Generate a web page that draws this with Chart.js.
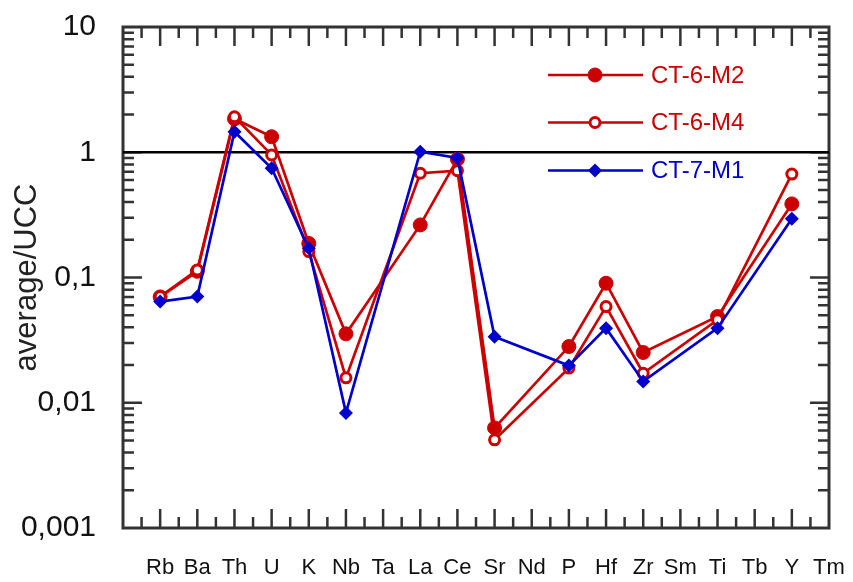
<!DOCTYPE html>
<html><head><meta charset="utf-8">
<script src="https://cdn.jsdelivr.net/npm/chart.js@4/dist/chart.umd.min.js"></script>
<style>html,body{margin:0;padding:0;background:#fff}#wrap{width:853px;height:582px}</style>
</head><body><div id="wrap"><canvas id="c" width="853" height="582"></canvas></div>
<script>
const categories = ['Rb','Ba','Th','U','K','Nb','Ta','La','Ce','Sr','Nd','P','Hf','Zr','Sm','Ti','Tb','Y','Tm'];
const ct6m2 = [0.070, 0.112, 1.85, 1.33, 0.187, 0.0355, null, 0.263, 0.88, 0.0063, null, 0.0281, 0.090, 0.0252, null, 0.0488, null, 0.387, null];
const ct6m4 = [0.0704, 0.115, 1.92, 0.952, 0.161, 0.0158, null, 0.68, 0.713, 0.00506, null, 0.0189, 0.0586, 0.0172, null, 0.0459, null, 0.67, null];
const ct7m1 = [0.0642, 0.0704, 1.46, 0.745, 0.171, 0.0083, null, 1.01, 0.90, 0.0337, null, 0.0198, 0.0394, 0.0148, null, 0.0394, null, 0.294, null];
const seriesNames = ['CT-6-M2','CT-6-M4','CT-7-M1'];
const yTickValues = [0.001, 0.01, 0.1, 1, 10];
const yTickLabels = ['0,001','0,01','0,1','1','10'];
const referenceLevel = 1;

const RED = '#cc0000', BLUE = '#0000cc';
const FONT = '"Liberation Sans", Arial, sans-serif';

function toPoints(arr){ const pts=[]; arr.forEach((v,i)=>{ if(v!==null) pts.push({x:i,y:v}); }); return pts; }

const datasets = [
  {label: seriesNames[0], data: toPoints(ct6m2), borderColor: RED, backgroundColor: RED, borderWidth: 2.7,
   pointStyle: 'circle', pointRadius: 7, pointBorderWidth: 1, pointBackgroundColor: RED, pointBorderColor: RED, order: 2},
  {label: seriesNames[1], data: toPoints(ct6m4), borderColor: RED, backgroundColor: '#fff', borderWidth: 2.7,
   pointStyle: 'circle', pointRadius: 5, pointBorderWidth: 3, pointBackgroundColor: '#fff', pointBorderColor: RED, order: 1},
  {label: seriesNames[2], data: toPoints(ct7m1), borderColor: BLUE, backgroundColor: BLUE, borderWidth: 2.7,
   pointStyle: 'rectRot', pointRadius: 7, pointBorderWidth: 0, pointBackgroundColor: BLUE, pointBorderColor: BLUE, order: 0},
  {label: 'ref', data: [{x:-1, y:referenceLevel},{x:categories.length-1, y:referenceLevel}], borderColor: '#000', borderWidth: 2.5, pointRadius: 0, order: 3}
];

const framePlugin = {
  id: 'frame',
  beforeDatasetsDraw(chart){
    const ctx = chart.ctx, xs = chart.scales.x, ys = chart.scales.y;
    const L = xs.getPixelForValue(-1), R = xs.getPixelForValue(categories.length-1);
    const T = ys.getPixelForValue(yTickValues[yTickValues.length-1]), B = ys.getPixelForValue(yTickValues[0]);
    ctx.save();
    ctx.strokeStyle = '#333'; ctx.lineWidth = 2.5; ctx.lineCap = 'butt';
    ctx.beginPath();
    for (let k = -1; k <= (categories.length-1)*2 - 1; k++){
      const v = k/2; const px = xs.getPixelForValue(v);
      const len = Number.isInteger(v) ? 19 : 11;
      ctx.moveTo(px, B); ctx.lineTo(px, B-len);
      ctx.moveTo(px, T); ctx.lineTo(px, T+len);
    }
    for (let d = -3; d <= 0; d++){
      for (let m = 1; m <= 9; m++){
        if (m === 1 && d === -3) continue;
        const py = ys.getPixelForValue(m*Math.pow(10,d));
        const len = m === 1 ? 19 : 11;
        ctx.moveTo(L, py); ctx.lineTo(L+len, py);
        ctx.moveTo(R, py); ctx.lineTo(R-len, py);
      }
    }
    ctx.stroke();
    ctx.lineWidth = 3;
    ctx.strokeRect(L, T, R-L, B-T);
    ctx.restore();
  }
};

const legendPlugin = {
  id: 'customLegend',
  afterDraw(chart){
    const ctx = chart.ctx;
    const ys = [75, 122.5, 170.5];
    const colors = [RED, RED, BLUE];
    ctx.save();
    for (let i = 0; i < 3; i++){
      const ds = chart.data.datasets[i];
      const y = ys[i];
      ctx.strokeStyle = colors[i]; ctx.lineWidth = 2.5;
      ctx.beginPath(); ctx.moveTo(548, y); ctx.lineTo(643, y); ctx.stroke();
      ctx.fillStyle = ds.pointBackgroundColor; ctx.strokeStyle = ds.pointBorderColor; ctx.lineWidth = ds.pointBorderWidth;
      Chart.helpers.drawPoint(ctx, {pointStyle: ds.pointStyle, radius: ds.pointRadius, borderWidth: ds.pointBorderWidth, rotation: 0}, 595, y);
      ctx.fillStyle = colors[i];
      ctx.font = '24px ' + FONT;
      ctx.textBaseline = 'middle'; ctx.textAlign = 'left';
      ctx.fillText(ds.label, 651, y + 1);
    }
    ctx.restore();
  }
};

new Chart(document.getElementById('c'), {
  type: 'line',
  data: { datasets },
  options: {
    responsive: false, animation: false, devicePixelRatio: 1,
    layout: { padding: { top: 27, right: 24, left: 0, bottom: 0 } },
    elements: { line: { tension: 0, fill: false } },
    plugins: { legend: { display: false }, tooltip: { enabled: false } },
    scales: {
      x: {
        type: 'linear', min: -1, max: categories.length-1,
        afterBuildTicks: s => { s.ticks = categories.map((c,i)=>({value:i})); },
        afterFit: s => { s.height = 54; s.paddingLeft = 0; s.paddingRight = 0; },
        ticks: { autoSkip: false, maxRotation: 0, minRotation: 0, padding: 27, color: '#111',
                 font: { family: FONT, size: 22 }, callback: (v, i) => categories[i] },
        grid: { display: false, drawTicks: false }, border: { display: false }
      },
      y: {
        type: 'logarithmic', min: yTickValues[0], max: yTickValues[yTickValues.length-1],
        afterBuildTicks: s => { s.ticks = yTickValues.map(v=>({value:v})); },
        afterFit: s => { s.width = 123; s.paddingTop = 0; s.paddingBottom = 0; },
        ticks: { padding: 27, color: '#111', font: { family: FONT, size: 30 }, callback: (v, i) => yTickLabels[i] },
        title: { display: true, text: 'average/UCC', color: '#222', font: { family: FONT, size: 31 }, padding: { top: 9, bottom: 0 } },
        grid: { display: false, drawTicks: false }, border: { display: false }
      }
    }
  },
  plugins: [framePlugin, legendPlugin]
});
</script></body></html>
